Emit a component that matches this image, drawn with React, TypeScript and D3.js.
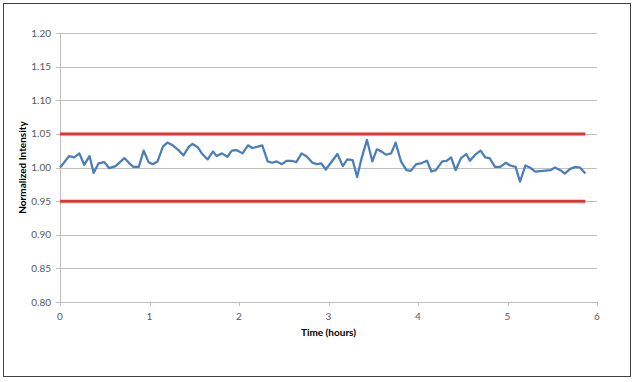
import React from "react";
import * as d3 from "d3";

const times = [0, 0.037, 0.10, 0.16, 0.216, 0.27, 0.33, 0.376, 0.43, 0.495, 0.55, 0.62, 0.72, 0.77, 0.82, 0.88, 0.935, 0.99,
  1.035, 1.09, 1.15, 1.20, 1.26, 1.33, 1.38, 1.44, 1.48, 1.54, 1.59, 1.65, 1.71, 1.75, 1.81, 1.87, 1.92, 1.97,
  2.04, 2.10, 2.15, 2.21, 2.26, 2.32, 2.37, 2.42, 2.48, 2.53, 2.59, 2.64, 2.70, 2.76, 2.82, 2.87, 2.92, 2.97,
  3.02, 3.10, 3.16, 3.21, 3.27, 3.32, 3.37, 3.43, 3.49, 3.54, 3.59, 3.64, 3.70, 3.75, 3.81, 3.87, 3.92, 3.98,
  4.03, 4.10, 4.15, 4.20, 4.27, 4.32, 4.37, 4.42, 4.48, 4.54, 4.58, 4.64, 4.70, 4.75, 4.80, 4.86, 4.92, 4.98,
  5.03, 5.09, 5.14, 5.20, 5.25, 5.31, 5.48, 5.53, 5.59, 5.64, 5.70, 5.76, 5.81, 5.87];
const intensity = [1.000, 1.006, 1.017, 1.015, 1.021, 1.004, 1.017, 0.992, 1.006, 1.008, 0.999, 1.002, 1.014, 1.007, 1.001, 1.001, 1.025, 1.008,
  1.005, 1.009, 1.031, 1.037, 1.033, 1.025, 1.018, 1.031, 1.035, 1.030, 1.020, 1.012, 1.024, 1.017, 1.021, 1.016, 1.025, 1.026,
  1.021, 1.033, 1.029, 1.031, 1.033, 1.009, 1.007, 1.009, 1.005, 1.010, 1.010, 1.008, 1.021, 1.016, 1.007, 1.005, 1.006, 0.997,
  1.006, 1.020, 1.002, 1.012, 1.011, 0.986, 1.014, 1.041, 1.009, 1.027, 1.024, 1.019, 1.021, 1.037, 1.009, 0.996, 0.995, 1.005,
  1.006, 1.010, 0.994, 0.996, 1.009, 1.010, 1.015, 0.996, 1.014, 1.020, 1.010, 1.019, 1.025, 1.015, 1.014, 1.001, 1.001, 1.007,
  1.003, 1.001, 0.979, 1.003, 1.000, 0.994, 0.996, 1.000, 0.996, 0.991, 0.998, 1.001, 1.000, 0.991];
const limits = [1.05, 0.95];
const limitRange = [0, 5.87];
const yTicks = [0.8, 0.85, 0.9, 0.95, 1.0, 1.05, 1.1, 1.15, 1.2];
const xTicks = [0, 1, 2, 3, 4, 5, 6];
const xTitle = "Time (hours)";
const yTitle = "Normalized Intensity";

export default function App() {
  const W = 635, H = 382;
  const x = d3.scaleLinear().domain([0, 6]).range([60, 597]);
  const y = d3.scaleLinear().domain([0.8, 1.2]).range([302, 33]);
  const data = times.map((t, i) => [t, intensity[i]] as [number, number]);
  const line = d3.line<[number, number]>().x(d => x(d[0])).y(d => y(d[1]));
  const font = "Lato, 'Open Sans', sans-serif";
  return (
    <svg width={W} height={H} style={{ position: "absolute", left: 0, top: 0, background: "#fff" }}>
      <rect x={3.5} y={3.5} width={627} height={373} fill="#fff" stroke="#404040" strokeWidth={1} />
      {yTicks.map(v => (
        <g key={v}>
          {v > 0.8 && <line x1={x(0)} x2={x(6)} y1={Math.round(y(v)) + 0.5} y2={Math.round(y(v)) + 0.5} stroke="#bfbfbf" />}
          <line x1={x(0) - 4} x2={x(0)} y1={Math.round(y(v)) + 0.5} y2={Math.round(y(v)) + 0.5} stroke="#bfbfbf" />
          <text x={51} y={y(v) + 3.5} textAnchor="end" fontSize={10} fill="#595959" fontFamily={font}>{v.toFixed(2)}</text>
        </g>
      ))}
      <line x1={x(0) + 0.5} x2={x(0) + 0.5} y1={y(1.2)} y2={y(0.8)} stroke="#bfbfbf" />
      <line x1={x(0)} x2={x(6)} y1={Math.round(y(0.8)) + 0.5} y2={Math.round(y(0.8)) + 0.5} stroke="#bfbfbf" />
      {xTicks.map(t => (
        <g key={t}>
          <line x1={Math.round(x(t)) + 0.5} x2={Math.round(x(t)) + 0.5} y1={y(0.8)} y2={y(0.8) + 4} stroke="#bfbfbf" />
          <text x={x(t)} y={320} textAnchor="middle" fontSize={10} fill="#595959" fontFamily={font}>{t}</text>
        </g>
      ))}
      {limits.map(l => (
        <line key={l} x1={x(limitRange[0])} x2={x(limitRange[1])} y1={y(l)} y2={y(l)} stroke="#e5312f" strokeWidth={3} />
      ))}
      <path d={line(data) || ""} fill="none" stroke="#4a7ebb" strokeWidth={2.25} strokeLinejoin="round" />
      <text x={x(3)} y={336} textAnchor="middle" fontSize={10} fontWeight="bold" fill="#000" fontFamily={font}>{xTitle}</text>
      <text transform={`translate(26,${y(1.0)}) rotate(-90)`} textAnchor="middle" fontSize={10} fontWeight="bold" fill="#000" fontFamily={font}>{yTitle}</text>
    </svg>
  );
}
